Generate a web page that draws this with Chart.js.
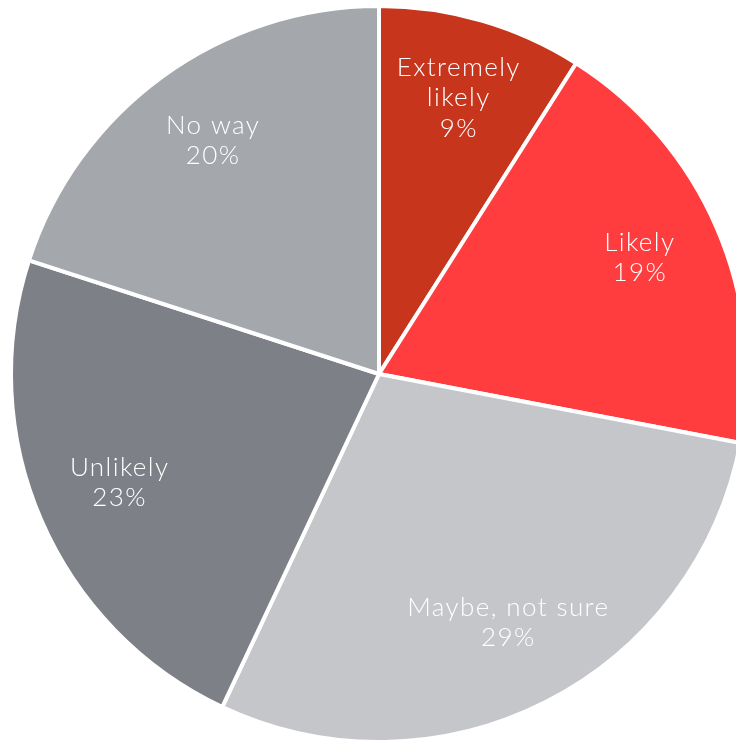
<!DOCTYPE html>
<html>
<head>
<meta charset="utf-8">
<script src="https://cdn.jsdelivr.net/npm/chart.js@4"></script>
<style>
  html, body { margin: 0; padding: 0; background: #fff; overflow: hidden; }
  #wrap { position: relative; width: 758px; height: 748px; }
</style>
</head>
<body>
<div id="wrap"><canvas id="pieChart" width="758" height="748"></canvas></div>
<script>
var categories = ['Extremely likely', 'Likely', 'Maybe, not sure', 'Unlikely', 'No way'];
var labelLines = [['Extremely', 'likely'], ['Likely'], ['Maybe, not sure'], ['Unlikely'], ['No way']];
var shares     = [9, 19, 29, 23, 20];
var colors     = ['#c8351d', '#ff3d3f', '#c4c6c9', '#7e8087', '#a4a7ac'];

// text inside each slice: name lines + percent
var sliceLabels = {
    id: 'sliceLabels',
    afterDatasetsDraw: function (chart) {
        var ctx = chart.ctx;
        var arcs = chart.getDatasetMeta(0).data;
        var spacing = 1.4;
        ctx.save();
        ctx.fillStyle = '#ffffff';
        ctx.font = '300 26px Lato, "Open Sans", sans-serif';
        ctx.letterSpacing = spacing + 'px';
        ctx.textAlign = 'center';
        ctx.textBaseline = 'middle';
        arcs.forEach(function (arc, i) {
            var mid = (arc.startAngle + arc.endAngle) / 2;
            var r = arc.outerRadius * 0.77;
            var x = arc.x + Math.cos(mid) * r + spacing / 2;
            var y = arc.y + Math.sin(mid) * r - 4;
            var lines = labelLines[i].concat([shares[i] + '%']);
            var lh = 30.5;
            var top = y - (lines.length - 1) * lh / 2;
            lines.forEach(function (t, k) {
                ctx.fillText(t, x, top + k * lh);
            });
        });
        ctx.restore();
    }
};

var pieCanvas = document.getElementById('pieChart').getContext('2d');
new Chart(pieCanvas, {
    type: 'pie',
    data: {
        labels: categories,
        datasets: [{
            data: shares,
            backgroundColor: colors,
            borderColor: '#ffffff',
            borderWidth: 4,
            hoverOffset: 0
        }]
    },
    options: {
        responsive: false,
        animation: false,
        radius: 368,
        layout: { padding: 0 },
        plugins: {
            legend: { display: false },
            tooltip: { enabled: false }
        }
    },
    plugins: [sliceLabels]
});
</script>
</body>
</html>
